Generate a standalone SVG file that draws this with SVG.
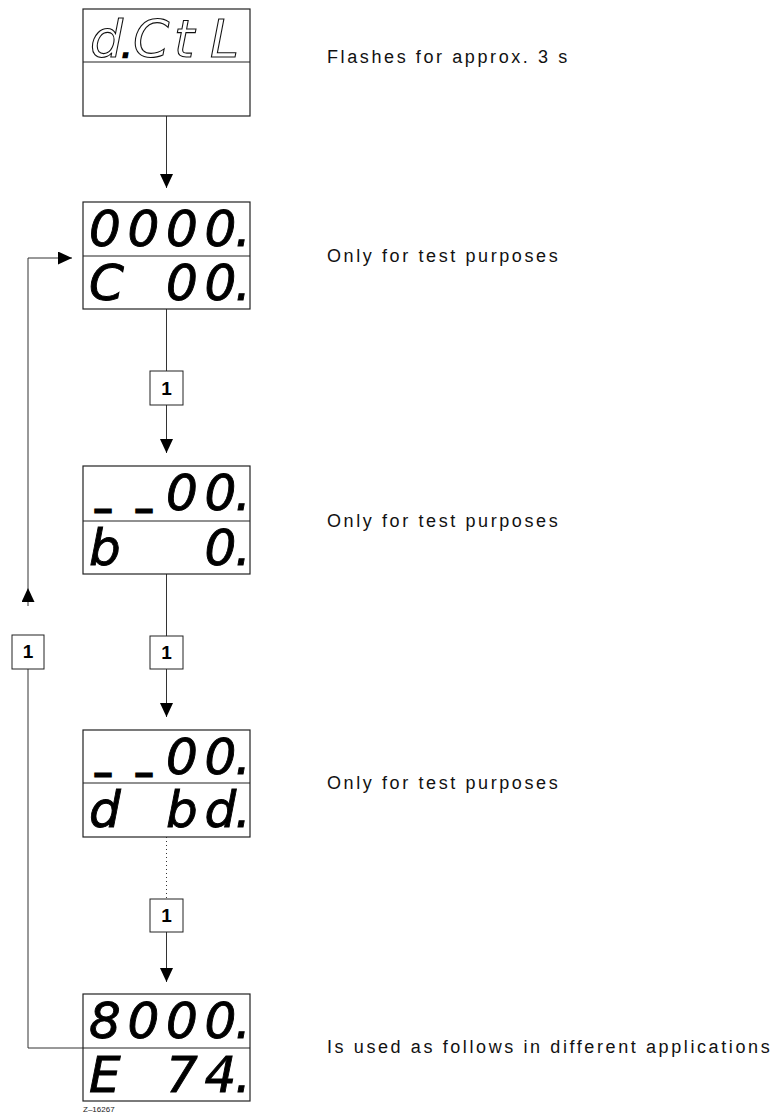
<svg xmlns="http://www.w3.org/2000/svg" width="775" height="1115" viewBox="0 0 775 1115">
<style>
.frame{fill:none;stroke:#222;stroke-width:1.2}
.div{stroke:#222;stroke-width:1.1}
.lcd{font-family:"DejaVu Sans",sans-serif;font-style:oblique;font-size:50px;fill:#000;stroke:#000;stroke-width:0.9;white-space:pre}
.lcdo{font-family:"DejaVu Sans",sans-serif;font-style:oblique;font-size:52px;fill:#fff;stroke:#111;stroke-width:1.1}
.pt{font-size:28px;fill:#000;stroke:#000;stroke-width:2.5}
.us{font-size:28px;stroke:#000;stroke-width:3}
.lbl{font-family:"Liberation Sans",Arial,sans-serif;font-size:18px;letter-spacing:2.6px;fill:#111}
.btn{fill:#fff;stroke:#222;stroke-width:1}
.btxt{font-family:"Liberation Sans",Arial,sans-serif;font-size:19px;font-weight:bold;fill:#000;text-anchor:middle}
.con{fill:none;stroke:#333;stroke-width:1}
.dot{stroke-dasharray:1 3}
.code{font-family:"Liberation Sans",Arial,sans-serif;font-size:8px;fill:#222}
</style>
<defs>
<marker id="ah" markerUnits="userSpaceOnUse" markerWidth="15" markerHeight="14" refX="14" refY="6.5" orient="auto">
<path d="M0,0 L14,6.5 L0,13 Z" fill="#000"/>
</marker>
</defs>

<g id="connectors">
<path class="con" d="M166.5,116 V188" marker-end="url(#ah)"/>
<path class="con" d="M166.5,309 V371"/>
<path class="con" d="M166.5,405 V453" marker-end="url(#ah)"/>
<path class="con" d="M166.5,574 V636"/>
<path class="con" d="M166.5,669 V717" marker-end="url(#ah)"/>
<path class="con dot" d="M166.5,837 V899"/>
<path class="con" d="M166.5,932 V982" marker-end="url(#ah)"/>
<path class="con" d="M83,1048 H28 V669"/>
<path class="con" d="M28,606 V588" marker-end="url(#ah)"/>
<path class="con" d="M28,588 V258 H72" marker-end="url(#ah)"/>
</g>

<g id="display1">
<rect class="frame" x="83" y="9" width="167" height="107"/>
<line class="div" x1="83" y1="62" x2="250" y2="62"/>
<text class="lcdo" x="90 122 133 174 210" y="57">d<tspan class="pt">.</tspan>CtL</text>
</g>

<g id="display2">
<rect class="frame" x="83" y="202" width="167" height="107"/>
<line class="div" x1="83" y1="256" x2="250" y2="256"/>
<text class="lcd" x="89 127.5 166 204.5 235" y="246">0000.</text>
<text class="lcd" x="89 127.5 166 204.5 235" y="300">C 00.</text>
</g>

<g id="display3">
<rect class="frame" x="83" y="466" width="167" height="108"/>
<line class="div" x1="83" y1="521" x2="250" y2="521"/>
<text class="lcd"><tspan class="us" x="96 137" y="504.5">__</tspan><tspan x="166 204.5 235" y="510">00.</tspan></text>
<text class="lcd" x="89 127.5 166 204.5 235" y="565">b  0.</text>
</g>

<g id="display4">
<rect class="frame" x="83" y="730" width="167" height="107"/>
<line class="div" x1="83" y1="783" x2="250" y2="783"/>
<text class="lcd"><tspan class="us" x="96 137" y="768.5">__</tspan><tspan x="166 204.5 235" y="774">00.</tspan></text>
<text class="lcd" x="89 127.5 166 204.5 235" y="827">d bd.</text>
</g>

<g id="display5">
<rect class="frame" x="83" y="994" width="167" height="107"/>
<line class="div" x1="83" y1="1048" x2="250" y2="1048"/>
<text class="lcd" x="89 127.5 166 204.5 235" y="1038">8000.</text>
<text class="lcd" x="89 127.5 166 204.5 235" y="1092">E 74.</text>
<text class="code" x="83" y="1112">Z–16267</text>
</g>

<g id="button1">
<rect class="btn" x="150" y="371" width="33" height="34"/>
<text class="btxt" x="166.5" y="395">1</text>
</g>
<g id="button2">
<rect class="btn" x="150" y="636" width="33" height="33"/>
<text class="btxt" x="166.5" y="659">1</text>
</g>
<g id="button3">
<rect class="btn" x="150" y="899" width="33" height="33"/>
<text class="btxt" x="166.5" y="922">1</text>
</g>
<g id="button4">
<rect class="btn" x="12" y="635" width="32" height="34"/>
<text class="btxt" x="28" y="658">1</text>
</g>

<g id="labels">
<text class="lbl" x="327" y="63">Flashes for approx. 3 s</text>
<text class="lbl" x="327" y="262">Only for test purposes</text>
<text class="lbl" x="327" y="527">Only for test purposes</text>
<text class="lbl" x="327" y="789">Only for test purposes</text>
<text class="lbl" x="327" y="1053">Is used as follows in different applications</text>
</g>
</svg>
